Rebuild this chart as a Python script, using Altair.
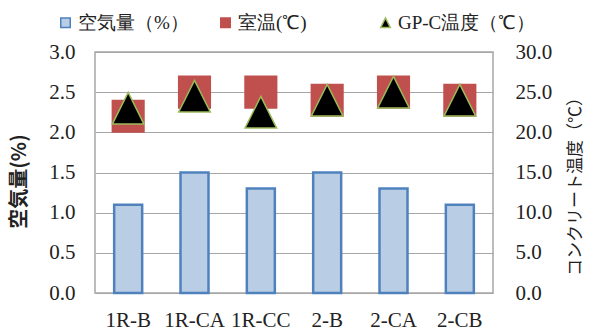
import altair as alt
import pandas as pd

categories = ["1R-B", "1R-CA", "1R-CC", "2-B", "2-CA", "2-CB"]
air_content = [1.1, 1.5, 1.3, 1.5, 1.3, 1.1]
room_temp = [22.0, 25.0, 25.0, 24.0, 25.0, 24.0]
gpc_temp = [23.0, 24.5, 22.5, 24.0, 25.0, 24.0]
series_names = ["空気量（%）", "室温(℃)", "GP-C温度（℃）"]
left_ticks = [0, 0.5, 1.0, 1.5, 2.0, 2.5, 3.0]
right_ticks = [0, 5, 10, 15, 20, 25, 30]

bar_df = pd.DataFrame({"cat": categories, "air": air_content})
pt_df = pd.DataFrame({
    "cat": categories + categories,
    "temp": room_temp + gpc_temp,
    "series": [series_names[1]] * len(categories) + [series_names[2]] * len(categories),
    "ord": [0] * len(categories) + [1] * len(categories),
})

SERIF = "Liberation Serif"
CJK = "Noto Sans CJK JP"
GRID = "#A6A6A6"
TXT = "#222222"

x_enc = alt.X(
    "cat:N", sort=categories, title=None,
    scale=alt.Scale(paddingInner=0, paddingOuter=0),
    axis=alt.Axis(labelAngle=0, labelFont=SERIF, labelFontSize=21, labelColor=TXT,
                  labelPadding=16, ticks=False, domain=False, labelOverlap=False,
                  labelBound=False, grid=False),
)

bars = alt.Chart(bar_df).mark_bar(size=28, fill="#B9CDE5", stroke="#4F81BD", strokeWidth=2.5).encode(
    x=x_enc,
    y=alt.Y("air:Q", scale=alt.Scale(domain=[0, 3], nice=False, zero=True),
            axis=alt.Axis(values=left_ticks, format=".1f", title="空気量(%)",
                          labelFont=SERIF, labelFontSize=21, labelColor=TXT,
                          labelPadding=20, ticks=False, domain=False,
                          grid=True, gridColor=GRID, gridWidth=1.2,
                          titleFont=CJK, titleFontSize=20, titleFontWeight="bold",
                          titleColor=TXT, titleAngle=270, titleX=-76, titleY=129,
                          titleAlign="center", titleBaseline="middle")),
)

tri = "M0,-1L1,1L-1,1Z"
legend = alt.Legend(orient="none", legendX=-39, legendY=-39, direction="horizontal",
                    columns=3, gridAlign="all",
                    title=None, labelFont=SERIF, labelFontSize=19, labelColor=TXT,
                    symbolSize=90, symbolStrokeWidth=1.5, columnPadding=0, labelOffset=3,
                    labelLimit=300)

points = alt.Chart(pt_df).mark_point(filled=True, opacity=1, size=1000, strokeWidth=1.5).encode(
    x=x_enc,
    y=alt.Y("temp:Q", scale=alt.Scale(domain=[0, 30], nice=False, zero=True),
            axis=alt.Axis(orient="right", values=right_ticks, format=".1f",
                          title="コンクリート温度（℃）",
                          labelFont=SERIF, labelFontSize=21, labelColor=TXT,
                          labelPadding=22, ticks=False, domain=False, grid=False,
                          titleFont=CJK, titleFontSize=17, titleFontWeight="normal",
                          titleColor=TXT, titleAngle=270, titleX=82, titleY=130,
                          titleAlign="center", titleBaseline="middle")),
    shape=alt.Shape("series:N", scale=alt.Scale(domain=series_names, range=["square", "square", tri]), legend=legend),
    fill=alt.Fill("series:N", scale=alt.Scale(domain=series_names, range=["#B9CDE5", "#C0504D", "#000000"]), legend=legend),
    stroke=alt.Stroke("series:N", scale=alt.Scale(domain=series_names, range=["#4F81BD", "#C0504D", "#9BBB59"]), legend=legend),
    order=alt.Order("ord:Q"),
)

chart = alt.layer(bars, points).resolve_scale(y="independent").properties(
    width=398, height=241,
    autosize=alt.AutoSizeParams(type="none"),
    padding={"left": 95, "top": 52, "right": 100, "bottom": 38},
    background="white",
).configure_view(
    stroke=GRID, strokeWidth=1.5
).configure_axis(
    labelFont=SERIF
).configure_legend(
    labelFont=SERIF
)

chart.save("out.html", embed_options={"renderer": "svg", "actions": False})
